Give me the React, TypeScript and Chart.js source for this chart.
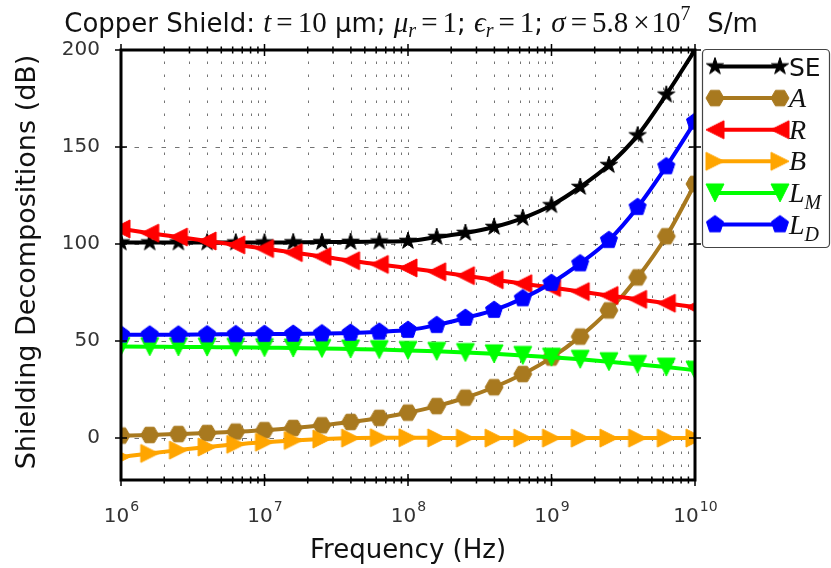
import React, { useEffect, useRef } from "react";
import { Chart, registerables } from "chart.js";

Chart.register(...registerables);

// Frequencies (Hz): five markers per decade, 1e6 .. 1e10
const frequencies = [
  1e6, 1.585e6, 2.512e6, 3.981e6, 6.31e6,
  1e7, 1.585e7, 2.512e7, 3.981e7, 6.31e7,
  1e8, 1.585e8, 2.512e8, 3.981e8, 6.31e8,
  1e9, 1.585e9, 2.512e9, 3.981e9, 6.31e9,
  1e10,
];

const seValues = [100.8, 100.8, 100.8, 100.8, 100.8, 100.8, 100.9, 101, 101.1, 101.3, 101.6, 103.6, 105.7, 108.8, 113.4, 120, 129.4, 140.7, 156, 177, 200];
const aValues = [1.3, 1.6, 2.1, 2.6, 3.3, 4.1, 5.2, 6.6, 8.3, 10.4, 13.1, 16.5, 20.8, 26.2, 33, 41.5, 52.3, 65.8, 82.8, 104, 131];
const rValues = [107.8, 105.6, 103.6, 101.6, 99.6, 97.7, 95.6, 93.6, 91.4, 89.5, 87.7, 85.7, 83.7, 81.6, 79.6, 77.6, 75.5, 73.5, 71.5, 69.5, 67.5];
const bValues = [-9.7, -7.9, -6.2, -4.6, -3.2, -2.1, -1.2, -0.5, 0, 0.2, 0.2, 0.1, 0, 0, 0, 0, 0, 0, 0, 0, 0];
const lmValues = [47.2, 47.1, 47.0, 46.9, 46.8, 46.6, 46.4, 46.2, 45.9, 45.6, 45.2, 44.7, 44.1, 43.4, 42.6, 41.7, 40.6, 39.4, 38.0, 36.6, 35];
const ldValues = [53.3, 53.3, 53.3, 53.4, 53.5, 53.6, 53.7, 53.9, 54.2, 54.8, 55.7, 58.2, 61.9, 66, 72, 79.9, 90, 102, 119, 140, 163];

const yTickValues = [0, 50, 100, 150, 200];
const xMajorExponents = [6, 7, 8, 9, 10];

const SANS = '"DejaVu Sans", sans-serif';
const SERIF = '"Liberation Serif", "DejaVu Serif", serif';

type Shape = "star" | "hex" | "triL" | "triR" | "triD" | "pent";

const seriesDefs: { key: string; values: number[]; color: string; shape: Shape }[] = [
  { key: "SE", values: seValues, color: "#000000", shape: "star" },
  { key: "A", values: aValues, color: "#a8791f", shape: "hex" },
  { key: "R", values: rValues, color: "#ff0000", shape: "triL" },
  { key: "B", values: bValues, color: "#ffa500", shape: "triR" },
  { key: "LM", values: lmValues, color: "#00ff00", shape: "triD" },
  { key: "LD", values: ldValues, color: "#0000ff", shape: "pent" },
];

function makeMarker(shape: Shape, color: string, size = 18): HTMLCanvasElement {
  const dim = size + 4;
  const c = document.createElement("canvas");
  c.width = dim;
  c.height = dim;
  const g = c.getContext("2d")!;
  g.translate(dim / 2, dim / 2);
  const r = size / 2;
  const pts: [number, number][] = [];
  if (shape === "star") {
    for (let i = 0; i < 10; i++) {
      const ang = -Math.PI / 2 + (i * Math.PI) / 5;
      const rr = i % 2 === 0 ? r : r * 0.382;
      pts.push([rr * Math.cos(ang), rr * Math.sin(ang)]);
    }
  } else if (shape === "hex") {
    for (let i = 0; i < 6; i++) {
      const ang = (i * Math.PI) / 3;
      pts.push([r * Math.cos(ang), r * Math.sin(ang)]);
    }
  } else if (shape === "pent") {
    for (let i = 0; i < 5; i++) {
      const ang = -Math.PI / 2 + (i * 2 * Math.PI) / 5;
      pts.push([r * Math.cos(ang), r * Math.sin(ang)]);
    }
  } else if (shape === "triL") {
    pts.push([-r, 0], [r, -r], [r, r]);
  } else if (shape === "triR") {
    pts.push([r, 0], [-r, -r], [-r, r]);
  } else {
    pts.push([0, r], [-r, -r], [r, -r]);
  }
  g.beginPath();
  pts.forEach(([x, y], i) => (i ? g.lineTo(x, y) : g.moveTo(x, y)));
  g.closePath();
  g.fillStyle = color;
  g.fill();
  g.lineWidth = 1;
  g.strokeStyle = color;
  g.stroke();
  return c;
}

type Seg = { t: string; font: string; dy?: number; gap?: number };

function drawRich(ctx: CanvasRenderingContext2D, segs: Seg[], x: number, y: number, align: "left" | "center") {
  ctx.save();
  ctx.textAlign = "left";
  ctx.textBaseline = "alphabetic";
  let total = 0;
  const widths = segs.map((s) => {
    if (s.gap !== undefined) return s.gap;
    ctx.font = s.font;
    return ctx.measureText(s.t).width;
  });
  widths.forEach((w) => (total += w));
  let cx = align === "center" ? x - total / 2 : x;
  segs.forEach((s, i) => {
    if (s.gap === undefined) {
      ctx.font = s.font;
      ctx.fillText(s.t, cx, y + (s.dy || 0));
    }
    cx += widths[i];
  });
  ctx.restore();
}

export default function App() {
  const canvasRef = useRef<HTMLCanvasElement | null>(null);

  useEffect(() => {
    const canvas = canvasRef.current;
    if (!canvas) return;
    const markers = seriesDefs.map((s) => makeMarker(s.shape, s.color));

    const decor = {
      id: "decor",
      beforeDatasetsDraw(chart: any) {
        const { ctx, chartArea } = chart;
        const xs = chart.scales.x;
        const ys = chart.scales.y;
        ctx.save();
        ctx.beginPath();
        ctx.rect(chartArea.left, chartArea.top, chartArea.right - chartArea.left, chartArea.bottom - chartArea.top);
        ctx.clip();
        ctx.strokeStyle = "rgba(0,0,0,0.55)";
        ctx.lineWidth = 1;
        // vertical grid (major + minor)
        ctx.setLineDash([2.5, 10.5]);
        for (let e = 6; e < 10; e++) {
          for (let k = 1; k <= 9; k++) {
            const px = Math.round(xs.getPixelForValue(k * Math.pow(10, e))) + 0.5;
            ctx.beginPath();
            ctx.moveTo(px, chartArea.bottom);
            ctx.lineTo(px, chartArea.top);
            ctx.stroke();
          }
        }
        // horizontal grid
        ctx.setLineDash([4.5, 9]);
        yTickValues.forEach((v) => {
          const py = Math.round(ys.getPixelForValue(v)) + 0.5;
          ctx.beginPath();
          ctx.moveTo(chartArea.left, py);
          ctx.lineTo(chartArea.right, py);
          ctx.stroke();
        });
        ctx.restore();
      },
      afterDatasetsDraw(chart: any) {
        const { ctx, chartArea } = chart;
        const xs = chart.scales.x;
        const ys = chart.scales.y;
        const L = chartArea.left, R = chartArea.right, T = chartArea.top, B = chartArea.bottom;
        ctx.save();
        // ticks
        ctx.strokeStyle = "#000";
        ctx.lineWidth = 1.5;
        for (let e = 6; e <= 10; e++) {
          for (let k = 1; k <= 9; k++) {
            if (e === 10 && k > 1) break;
            const px = xs.getPixelForValue(k * Math.pow(10, e));
            const len = k === 1 ? 6 : 3.5;
            ctx.beginPath();
            ctx.moveTo(px, B - len);
            ctx.lineTo(px, B + len);
            ctx.moveTo(px, T - len);
            ctx.lineTo(px, T + len);
            ctx.stroke();
          }
        }
        yTickValues.forEach((v) => {
          const py = ys.getPixelForValue(v);
          ctx.beginPath();
          ctx.moveTo(L - 6, py);
          ctx.lineTo(L + 6, py);
          ctx.moveTo(R - 6, py);
          ctx.lineTo(R + 6, py);
          ctx.stroke();
        });
        // spines
        ctx.lineWidth = 3;
        ctx.strokeRect(L, T, R - L, B - T);

        // x tick labels 10^n
        ctx.fillStyle = "#333";
        xMajorExponents.forEach((e) => {
          const px = xs.getPixelForValue(Math.pow(10, e));
          ctx.font = `20px ${SANS}`;
          const wBase = ctx.measureText("10").width;
          ctx.font = `14px ${SANS}`;
          const wSup = ctx.measureText(String(e)).width;
          const x0 = px - (wBase + wSup) / 2;
          ctx.textAlign = "left";
          ctx.textBaseline = "alphabetic";
          ctx.font = `20px ${SANS}`;
          ctx.fillText("10", x0, 522);
          ctx.font = `14px ${SANS}`;
          ctx.fillText(String(e), x0 + wBase + 1, 511);
        });

        // axis labels
        ctx.fillStyle = "#111";
        ctx.textAlign = "center";
        ctx.textBaseline = "middle";
        ctx.font = `26px ${SANS}`;
        ctx.fillText("Frequency (Hz)", (L + R) / 2, 551);
        ctx.save();
        ctx.font = `27px ${SANS}`;
        ctx.translate(28, (T + B) / 2 - 3);
        ctx.rotate(-Math.PI / 2);
        ctx.fillText("Shielding Decompositions (dB)", 0, 0);
        ctx.restore();

        // title
        ctx.fillStyle = "#111";
        const S = `26px ${SANS}`;
        const M = `29px ${SERIF}`;
        const MI = `italic 29px ${SERIF}`;
        const SUB = `italic 20px ${SERIF}`;
        const SUP = `20px ${SERIF}`;
        const g = 5;
        drawRich(
          ctx,
          [
            { t: "Copper Shield: ", font: S },
            { t: "t", font: MI },
            { t: "", font: M, gap: g },
            { t: "=", font: M },
            { t: "", font: M, gap: g },
            { t: "10", font: M },
            { t: " μm; ", font: S },
            { t: "μ", font: MI },
            { t: "r", font: SUB, dy: 5 },
            { t: "", font: M, gap: g },
            { t: "=", font: M },
            { t: "", font: M, gap: g },
            { t: "1", font: M },
            { t: "; ", font: S },
            { t: "ϵ", font: MI },
            { t: "r", font: SUB, dy: 5 },
            { t: "", font: M, gap: g },
            { t: "=", font: M },
            { t: "", font: M, gap: g },
            { t: "1", font: M },
            { t: "; ", font: S },
            { t: "σ", font: MI },
            { t: "", font: M, gap: g },
            { t: "=", font: M },
            { t: "", font: M, gap: g },
            { t: "5.8", font: M },
            { t: "", font: M, gap: g },
            { t: "×", font: M },
            { t: "", font: M, gap: 2 },
            { t: "10", font: M },
            { t: "7", font: SUP, dy: -12 },
            { t: "  S/m", font: S },
          ],
          (L + R) / 2 + 3,
          32,
          "center"
        );

        // legend
        const bx = 702.5, by = 49.5, bw = 127, bh = 198;
        ctx.beginPath();
        (ctx as any).roundRect(bx, by, bw, bh, 4);
        ctx.fillStyle = "#fff";
        ctx.fill();
        ctx.lineWidth = 1.2;
        ctx.strokeStyle = "#444";
        ctx.stroke();
        seriesDefs.forEach((s, i) => {
          const ry = 66.5 + i * 31.6;
          ctx.strokeStyle = s.color;
          ctx.lineWidth = 4;
          ctx.beginPath();
          ctx.moveTo(715, ry);
          ctx.lineTo(780, ry);
          ctx.stroke();
          const m = markers[i];
          ctx.drawImage(m, 715 - m.width / 2, ry - m.height / 2);
          ctx.drawImage(m, 780 - m.width / 2, ry - m.height / 2);
          ctx.fillStyle = "#111";
          const lx = 789;
          if (s.key === "SE") {
            drawRich(ctx, [{ t: "SE", font: `25px ${SANS}` }], lx, ry + 9, "left");
          } else if (s.key === "LM" || s.key === "LD") {
            drawRich(
              ctx,
              [
                { t: "L", font: `italic 28px ${SERIF}` },
                { t: s.key[1], font: `italic 20px ${SERIF}`, dy: 7 },
              ],
              lx,
              ry + 9,
              "left"
            );
          } else {
            drawRich(ctx, [{ t: s.key, font: `italic 28px ${SERIF}` }], lx, ry + 9, "left");
          }
        });
        ctx.restore();
      },
    };

    const n = seriesDefs.length;
    const chart = new Chart(canvas, {
      type: "line",
      data: {
        datasets: seriesDefs.map((s, i) => ({
          label: s.key,
          data: frequencies.map((f, j) => ({ x: f, y: s.values[j] })),
          borderColor: s.color,
          backgroundColor: s.color,
          borderWidth: 4,
          pointStyle: markers[i] as any,
          pointRadius: 9,
          cubicInterpolationMode: "monotone" as const,
          order: n - i,
        })),
      },
      options: {
        animation: false,
        responsive: false,
        events: [],
        layout: { padding: { top: 50, right: 136, left: 0, bottom: 0 } },
        plugins: {
          legend: { display: false },
          tooltip: { enabled: false },
          title: { display: false },
        },
        scales: {
          x: {
            type: "logarithmic",
            min: 1e6,
            max: 1e10,
            grid: { display: false, drawTicks: false },
            border: { display: false },
            ticks: { display: false },
            afterFit: (s: any) => {
              s.height = 88;
            },
          },
          y: {
            type: "linear",
            min: -21.6,
            max: 200,
            grid: { display: false, drawTicks: false },
            border: { display: false },
            afterBuildTicks: (s: any) => {
              s.ticks = yTickValues.map((v) => ({ value: v }));
            },
            ticks: {
              font: { family: SANS, size: 20 },
              color: "#333",
              padding: 21,
              callback: (v: any) => String(v),
            },
            afterFit: (s: any) => {
              s.width = 121;
            },
          },
        },
      },
      plugins: [decor],
    });
    return () => chart.destroy();
  }, []);

  return (
    <div style={{ position: "fixed", left: 0, top: 0, width: 831, height: 568, background: "#fff" }}>
      <canvas ref={canvasRef} width={831} height={568} />
    </div>
  );
}
